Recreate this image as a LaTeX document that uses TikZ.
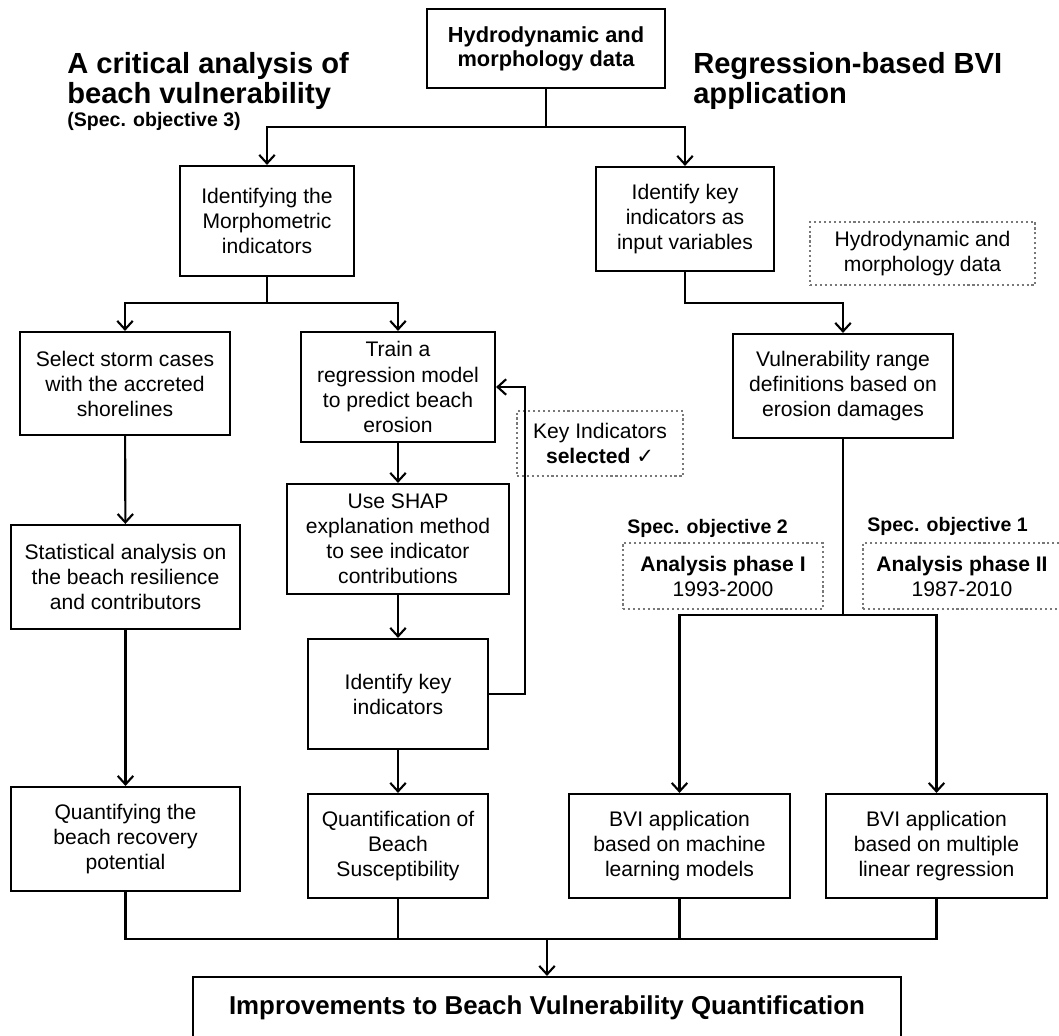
\documentclass[tikz,border=0pt]{standalone}
\usepackage{fontspec}
\setmainfont{Liberation Sans}
\newfontfamily\checkfont{DejaVu Sans}
\usepackage{tikz}
\usetikzlibrary{arrows.meta,calc}
\tikzset{every node/.append style={align=center}}
\definecolor{boxgray}{RGB}{120,120,120}
\tikzset{
  box/.style={draw, line width=1.5pt, inner sep=0pt,
    font=\fontsize{15}{17.8}\selectfont},
  dotbox/.style={draw=boxgray, line width=1.5pt, dotted, inner sep=0pt,
    font=\fontsize{15}{17.8}\selectfont},
  flow/.style={line width=1.5pt, -{Straight Barb[length=6pt,width=11pt,line width=1.5pt]}},
  link/.style={line width=1.5pt},
  heading/.style={font=\bfseries\fontsize{20.7}{21.3}\selectfont,
    align=left, inner sep=0pt, anchor=north west},
  objlabel/.style={font=\bfseries\fontsize{13.9}{16}\selectfont,
    inner sep=0pt, anchor=base west}
}

\begin{document}
\begin{tikzpicture}[x=0.025cm, y=-0.025cm]
  \useasboundingbox (0,0) rectangle (1059,1036);

  % === HEADINGS ===
  \node[heading] (lefttitle) at (67,52)
    {A critical analysis of\\beach vulnerability};
  \node[objlabel] (obj3) at (67,127) {(Spec. objective 3)};
  \node[heading] (righttitle) at (693,52)
    {Regression-based BVI\\application};

  % === TOP INPUT ===
  \node[box, minimum width=5.95cm, minimum height=1.975cm,
    font=\bfseries\fontsize{15.5}{17}\selectfont] (top) at (546,48.5)
    {Hydrodynamic and\\morphology data};

  % === LEFT BRANCH ===
  \node[box, minimum width=4.35cm, minimum height=2.75cm] (morph) at (267,221)
    {Identifying the\\Morphometric\\indicators};
  \node[box, minimum width=5.25cm, minimum height=2.575cm] (storm) at (125,383.5)
    {Select storm cases\\with the accreted\\shorelines};
  \node[box, minimum width=5.725cm, minimum height=2.6cm] (stat) at (125.5,577)
    {Statistical analysis on\\the beach resilience\\and contributors};
  \node[box, minimum width=5.725cm, minimum height=2.6cm] (quantrec) at (125.5,839)
    {Quantifying the\\beach recovery\\potential};

  % Regression model chain
  \node[box, minimum width=4.85cm, minimum height=2.75cm] (train) at (398,387)
    {Train a\\regression model\\to predict beach\\erosion};
  \node[box, minimum width=5.55cm, minimum height=2.75cm] (shap) at (398,539)
    {Use SHAP\\explanation method\\to see indicator\\contributions};
  \node[box, minimum width=4.5cm, minimum height=2.75cm] (ident) at (398,694)
    {Identify key\\indicators};
  \node[box, minimum width=4.5cm, minimum height=2.6cm] (quantsus) at (398,846)
    {Quantification of\\Beach\\Susceptibility};
  \node[dotbox, minimum width=4.15cm, minimum height=1.625cm] (keysel) at (600,443.5)
    {Key Indicators\\\textbf{selected} {\checkfont ✓}};

  % === RIGHT BRANCH ===
  \node[box, minimum width=4.45cm, minimum height=2.6cm] (keyin) at (685,219)
    {Identify key\\indicators as\\input variables};
  \node[dotbox, minimum width=5.625cm, minimum height=1.575cm] (hydro) at (922.5,253.5)
    {Hydrodynamic and\\morphology data};
  \node[box, minimum width=5.5cm, minimum height=2.6cm] (vuln) at (843,386)
    {Vulnerability range\\definitions based on\\erosion damages};

  % Analysis phases
  \node[objlabel] (obj2) at (627,533) {Spec. objective 2};
  \node[dotbox, minimum width=5cm, minimum height=1.65cm] (phase1) at (723,576)
    {\textbf{Analysis phase I}\\1993-2000};
  \node[objlabel] (obj1) at (867,531) {Spec. objective 1};
  \node[dotbox, minimum width=4.95cm, minimum height=1.65cm] (phase2) at (962,576)
    {\textbf{Analysis phase II}\\1987-2010};

  \node[box, minimum width=5.525cm, minimum height=2.6cm] (bviml) at (679.5,846)
    {BVI application\\based on machine\\learning models};
  \node[box, minimum width=5.525cm, minimum height=2.6cm] (bvimlr) at (936.5,846)
    {BVI application\\based on multiple\\linear regression};

  % === OUTCOME ===
  \node[box, minimum width=17.7cm, minimum height=1.525cm,
    font=\bfseries\fontsize{18.4}{20}\selectfont] (improve) at (547,1007.5)
    {Improvements to Beach Vulnerability Quantification};

  % === CONNECTORS ===
  \draw[link] (top.south) -- (top.south |- 0,127) coordinate (splittop);
  \draw[flow] (splittop) -| (morph.north);
  \draw[flow] (splittop) -| (keyin.north);

  \draw[link] (morph.south) -- (morph.south |- 0,303) coordinate (splitmorph);
  \draw[flow] (splitmorph) -| (storm.north);
  \draw[flow] (splitmorph) -| (train.north);

  \draw[flow] (storm) -- (stat);
  \draw[flow] (stat) -- (quantrec);

  \draw[flow] (train) -- (shap);
  \draw[flow] (shap) -- (ident);
  \draw[flow] (ident) -- (quantsus);
  % Feedback loop
  \draw[flow] (ident.east) -- ++(36,0) |- (train.east);

  \draw[flow] (keyin.south) -- ++(0,31) -| (vuln.north);
  \draw[link] (vuln.south) -- (vuln.south |- 0,615) coordinate (splitvuln);
  \draw[flow] (splitvuln) -| (bviml.north);
  \draw[flow] (splitvuln) -| (bvimlr.north);

  % Merge into the outcome
  \coordinate (merge) at (547,939);
  \draw[link] (quantrec.south) -- (quantrec.south |- merge)
    -- (bvimlr.south |- merge) -- (bvimlr.south);
  \draw[link] (quantsus.south) -- (quantsus.south |- merge);
  \draw[link] (bviml.south) -- (bviml.south |- merge);
  \draw[flow] (merge) -- (improve.north);

\end{tikzpicture}
\end{document}
